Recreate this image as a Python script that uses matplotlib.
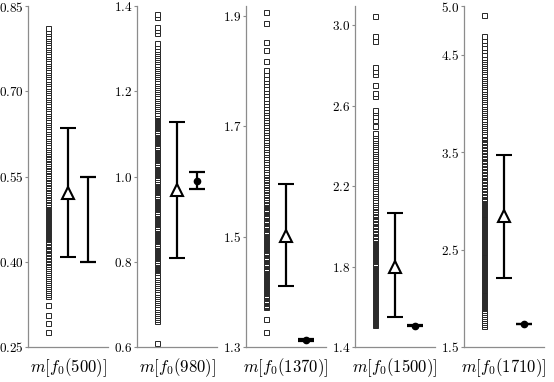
import numpy as np
import matplotlib
matplotlib.use("Agg")
import matplotlib.pyplot as plt

plt.rcParams['mathtext.fontset'] = 'cm'
plt.rcParams['font.family'] = 'serif'
plt.rcParams['font.serif'] = ['DejaVu Serif']

labels = ['500', '980', '1370', '1500', '1710']

# individual samples (open squares)
sq1 = [0.276, 0.292, 0.306, 0.324,
       0.340, 0.344, 0.347, 0.351, 0.354, 0.358, 0.361, 0.365, 0.368, 0.372, 0.375, 0.379, 0.382, 0.386,
       0.389, 0.393, 0.396,
       0.400, 0.402, 0.405, 0.407, 0.410, 0.412, 0.415, 0.417, 0.420, 0.422, 0.425, 0.427, 0.430, 0.432,
       0.435, 0.437,
       0.440, 0.442, 0.443, 0.445, 0.447, 0.449, 0.450, 0.452, 0.454, 0.456, 0.457, 0.459, 0.461, 0.463,
       0.464, 0.466, 0.468, 0.470, 0.471, 0.473, 0.475, 0.477, 0.478, 0.480, 0.482, 0.484, 0.485, 0.487,
       0.489, 0.491, 0.492, 0.494, 0.496, 0.498, 0.499,
       0.502, 0.505, 0.508, 0.511, 0.514, 0.517, 0.520, 0.523, 0.526, 0.529, 0.532, 0.535, 0.538, 0.541,
       0.544, 0.547, 0.550, 0.553, 0.556, 0.559, 0.562, 0.565, 0.568, 0.571, 0.574, 0.577, 0.580, 0.583,
       0.586, 0.589, 0.592, 0.595, 0.598,
       0.602, 0.606, 0.610, 0.614, 0.618, 0.622, 0.626, 0.630, 0.634, 0.638, 0.642, 0.646, 0.650, 0.654,
       0.658, 0.662, 0.666, 0.670, 0.674, 0.678, 0.682, 0.686, 0.690, 0.694, 0.698, 0.702, 0.706, 0.710,
       0.714, 0.718, 0.722, 0.726, 0.730, 0.734, 0.738, 0.742, 0.746, 0.750, 0.754, 0.758, 0.762, 0.766,
       0.770, 0.774, 0.778, 0.782, 0.786, 0.790, 0.794, 0.798, 0.802, 0.806, 0.811]
sq2 = [0.609,
       0.660, 0.665, 0.670, 0.675, 0.680, 0.685, 0.690, 0.695, 0.700, 0.705, 0.710, 0.715, 0.720, 0.725,
       0.730, 0.735, 0.740, 0.745, 0.750, 0.755, 0.760, 0.765, 0.770, 0.775,
       0.780, 0.783, 0.785, 0.788, 0.790, 0.793, 0.795, 0.798, 0.800, 0.803, 0.805, 0.808, 0.810, 0.813,
       0.815, 0.818, 0.820, 0.823, 0.825, 0.828, 0.830, 0.833, 0.835, 0.838, 0.840, 0.843, 0.845, 0.848,
       0.850, 0.853, 0.855, 0.858, 0.860, 0.863, 0.865, 0.868, 0.870, 0.873, 0.875, 0.878, 0.880, 0.883,
       0.885, 0.888, 0.890, 0.893, 0.895, 0.898, 0.900, 0.903, 0.905, 0.908, 0.910, 0.913, 0.915, 0.918,
       0.920, 0.923, 0.925, 0.928, 0.930, 0.933, 0.935, 0.938, 0.940, 0.943, 0.945, 0.948, 0.950, 0.953,
       0.955, 0.958, 0.960, 0.963, 0.965, 0.968, 0.970, 0.973, 0.975, 0.978, 0.980, 0.983, 0.985, 0.988,
       0.990, 0.993, 0.995, 0.998, 1.000, 1.003, 1.005, 1.008, 1.010, 1.013, 1.015, 1.018, 1.020, 1.023,
       1.025, 1.028, 1.030, 1.033, 1.035, 1.038, 1.040, 1.043, 1.045, 1.048, 1.050, 1.053, 1.055, 1.058,
       1.060, 1.063, 1.065, 1.068, 1.070, 1.073, 1.075, 1.078, 1.080, 1.083, 1.085, 1.088, 1.090, 1.093,
       1.095, 1.098, 1.100, 1.103, 1.105, 1.108, 1.110, 1.113, 1.115, 1.118, 1.120, 1.123, 1.125, 1.128,
       1.130, 1.133, 1.135, 1.138, 1.140, 1.143, 1.145,
       1.150, 1.155, 1.160, 1.165, 1.170, 1.175, 1.180, 1.185, 1.190, 1.195, 1.200, 1.205, 1.210, 1.215,
       1.220, 1.225, 1.230, 1.235, 1.240, 1.245, 1.250, 1.255, 1.260, 1.265, 1.270, 1.275, 1.280, 1.285,
       1.290, 1.295, 1.300, 1.305, 1.313,
       1.337, 1.344, 1.351, 1.374, 1.381]
sq3 = [1.327, 1.351,
       1.373, 1.375, 1.377, 1.379, 1.381, 1.383, 1.384, 1.386, 1.388, 1.390, 1.392, 1.394, 1.395, 1.397,
       1.399, 1.401, 1.403, 1.405, 1.407, 1.409, 1.410, 1.412, 1.414, 1.416, 1.418, 1.420, 1.421, 1.423,
       1.425, 1.427, 1.429, 1.431, 1.433, 1.435, 1.436, 1.438, 1.440, 1.442, 1.444, 1.446, 1.447, 1.449,
       1.451, 1.453, 1.455, 1.457, 1.459, 1.461, 1.462, 1.464, 1.466, 1.468, 1.470, 1.472, 1.473, 1.475,
       1.477, 1.479, 1.481, 1.483, 1.485, 1.487, 1.488, 1.490, 1.492, 1.494, 1.496, 1.498, 1.499, 1.501,
       1.503, 1.505, 1.507, 1.509, 1.511, 1.513, 1.514, 1.516, 1.518, 1.520, 1.522, 1.524, 1.525, 1.527,
       1.529, 1.531, 1.533, 1.535, 1.537, 1.539, 1.540, 1.542, 1.544, 1.546, 1.548, 1.550, 1.551, 1.553,
       1.555, 1.557, 1.559, 1.561, 1.563, 1.566, 1.569, 1.572, 1.575, 1.578, 1.581, 1.584, 1.587, 1.590,
       1.593, 1.596, 1.599, 1.602, 1.605, 1.608, 1.611, 1.614, 1.617,
       1.622, 1.627, 1.631, 1.636, 1.640, 1.645, 1.649, 1.654, 1.658, 1.663, 1.667, 1.672, 1.676, 1.681,
       1.685, 1.690, 1.694, 1.699, 1.703, 1.708, 1.712, 1.717, 1.721, 1.726, 1.730, 1.735, 1.740, 1.746,
       1.752, 1.758, 1.764, 1.770, 1.776, 1.782, 1.788, 1.795, 1.802,
       1.819, 1.839, 1.853, 1.887, 1.908]
sq4 = [1.510, 1.515, 1.520, 1.525, 1.530, 1.535, 1.540, 1.545, 1.550, 1.555, 1.560, 1.565, 1.570, 1.575,
       1.580, 1.585, 1.590, 1.595, 1.600, 1.605, 1.610, 1.615, 1.620, 1.625, 1.630, 1.635, 1.640, 1.645,
       1.650, 1.655, 1.660, 1.665, 1.670, 1.675, 1.680, 1.685, 1.690, 1.695, 1.700, 1.705, 1.710, 1.715,
       1.720, 1.725, 1.730, 1.735, 1.740, 1.745, 1.750, 1.755, 1.760, 1.765, 1.770, 1.775, 1.780, 1.785,
       1.790, 1.795, 1.800, 1.805, 1.810, 1.815, 1.820, 1.825, 1.830, 1.835, 1.840, 1.845, 1.850, 1.855,
       1.860, 1.865, 1.870, 1.875, 1.880, 1.885, 1.890, 1.895, 1.900, 1.905, 1.910, 1.915, 1.920, 1.925,
       1.930, 1.937, 1.944, 1.951, 1.958, 1.965, 1.972, 1.979, 1.986, 1.993, 2.000, 2.007, 2.014, 2.021,
       2.028, 2.035, 2.042, 2.049, 2.056, 2.063, 2.070, 2.078, 2.086, 2.094, 2.102,
       2.111, 2.122, 2.133, 2.144, 2.155, 2.166, 2.177, 2.188, 2.199, 2.210, 2.221, 2.232, 2.243, 2.254,
       2.265, 2.276, 2.287, 2.298, 2.309, 2.320, 2.331, 2.342, 2.353, 2.364, 2.375, 2.386, 2.397, 2.408,
       2.419, 2.430, 2.441, 2.452, 2.463,
       2.50, 2.53, 2.55, 2.566, 2.576, 2.65, 2.665, 2.70, 2.755, 2.77, 2.79, 2.92, 2.944, 3.046]
sq5 = [1.72, 1.74, 1.76, 1.78, 1.80, 1.82, 1.84, 1.86, 1.88,
       1.90, 1.91, 1.92, 1.93, 1.94, 1.95, 1.96, 1.97, 1.98, 1.99, 2.00, 2.01, 2.02, 2.03, 2.04, 2.05,
       2.06, 2.07, 2.08, 2.09, 2.10, 2.11, 2.12, 2.13, 2.14, 2.15, 2.16, 2.17, 2.18, 2.19, 2.20, 2.21,
       2.22, 2.23, 2.24, 2.25, 2.26, 2.27, 2.28, 2.29, 2.30, 2.31, 2.32, 2.33, 2.34, 2.35, 2.36, 2.37,
       2.38, 2.39, 2.40, 2.41, 2.42, 2.43, 2.44, 2.45, 2.46, 2.47, 2.48, 2.49, 2.50, 2.51, 2.52, 2.53,
       2.54, 2.55, 2.56, 2.57, 2.58, 2.59, 2.60, 2.61, 2.62, 2.63, 2.64, 2.65, 2.66, 2.67, 2.68, 2.69,
       2.70, 2.71, 2.72, 2.73, 2.74, 2.75, 2.76, 2.77, 2.78, 2.79, 2.80, 2.81, 2.82, 2.83, 2.84, 2.85,
       2.86, 2.87, 2.88, 2.89, 2.90, 2.91, 2.92, 2.93, 2.94, 2.95, 2.96, 2.97, 2.98, 2.99, 3.00, 3.01,
       3.02, 3.03,
       3.045, 3.060, 3.075, 3.090, 3.105, 3.120, 3.135, 3.150, 3.165, 3.180, 3.195, 3.210, 3.225, 3.240,
       3.255, 3.270, 3.285, 3.300, 3.315, 3.330, 3.345, 3.360, 3.375, 3.390, 3.405, 3.420, 3.435, 3.450,
       3.465, 3.480, 3.495, 3.510, 3.525, 3.540, 3.555, 3.570, 3.585, 3.600, 3.615, 3.630, 3.645, 3.660,
       3.675, 3.690,
       3.712, 3.734, 3.756, 3.778, 3.800, 3.822, 3.844, 3.866, 3.888, 3.910, 3.932, 3.954, 3.976, 3.998,
       4.020, 4.042, 4.064, 4.086, 4.108, 4.130, 4.152, 4.174, 4.196, 4.218, 4.240, 4.262, 4.284, 4.306,
       4.328, 4.350, 4.372, 4.394, 4.416, 4.438, 4.460,
       4.48, 4.51, 4.55, 4.58, 4.62, 4.65, 4.69, 4.907]
samples = [sq1, sq2, sq3, sq4, sq5]

# triangle estimate with interval
tri_mean = [0.521, 0.968, 1.502, 1.800, 2.842]
tri_lo = [0.408, 0.809, 1.410, 1.548, 2.208]
tri_hi = [0.636, 1.128, 1.595, 2.066, 3.470]

# filled circle estimate with interval (first one has no marker)
circ_mean = [0.475, 0.990, 1.313, 1.505, 1.737]
circ_lo = [0.400, 0.971, 1.311, 1.503, 1.733]
circ_hi = [0.550, 1.011, 1.315, 1.507, 1.741]
circ_marker = ['none', 'o', 'o', 'o', 'o']

ylims = [(0.25, 0.85), (0.6, 1.4), (1.3, 1.918), (1.4, 3.095), (1.5, 5.0)]
yticks = [[0.25, 0.40, 0.55, 0.70, 0.85],
          [0.6, 0.8, 1.0, 1.2, 1.4],
          [1.3, 1.5, 1.7, 1.9],
          [1.4, 1.8, 2.2, 2.6, 3.0],
          [1.5, 2.5, 3.5, 4.5, 5.0]]
tickfmt = ['%.2f', '%.1f', '%.1f', '%.1f', '%.1f']

W, H = 554, 382
fig = plt.figure(figsize=(W / 100, H / 100), dpi=100)
lefts = [28, 137, 246, 355, 464]

for i in range(5):
    ax = fig.add_axes([lefts[i] / W, 35 / H, 80 / W, 341 / H])
    vals = samples[i]
    ax.plot(np.ones(len(vals)), vals, 's', ms=3.6, mfc='white', mec='0.15', mew=0.7, ls='none')
    ax.errorbar([2], [tri_mean[i]],
                yerr=[[tri_mean[i] - tri_lo[i]], [tri_hi[i] - tri_mean[i]]],
                fmt='^', ms=9, mfc='white', mec='black', mew=1.5,
                color='black', elinewidth=1.6, capsize=5.5, capthick=1.6)
    ax.errorbar([3], [circ_mean[i]],
                yerr=[[circ_mean[i] - circ_lo[i]], [circ_hi[i] - circ_mean[i]]],
                fmt=circ_marker[i], ms=4.5, mfc='black', mec='black',
                color='black', elinewidth=1.6, capsize=5.5, capthick=1.6)
    ax.set_xlim(0, 4)
    ax.set_ylim(*ylims[i])
    ax.set_xticks([])
    ax.set_yticks(yticks[i])
    ax.set_yticklabels(['$' + tickfmt[i] % v + '$' for v in yticks[i]], fontsize=9.5)
    ax.tick_params(axis='y', length=2.5, width=0.8, color='0.55', pad=0.8)
    for s in ['top', 'right']:
        ax.spines[s].set_visible(False)
    for s in ['left', 'bottom']:
        ax.spines[s].set_color('0.55')
        ax.spines[s].set_linewidth(0.9)
    ax.set_xlabel(r'$m[f_0(%s)]$' % labels[i], fontsize=12, labelpad=7)

fig.savefig('out.png', dpi=100)
